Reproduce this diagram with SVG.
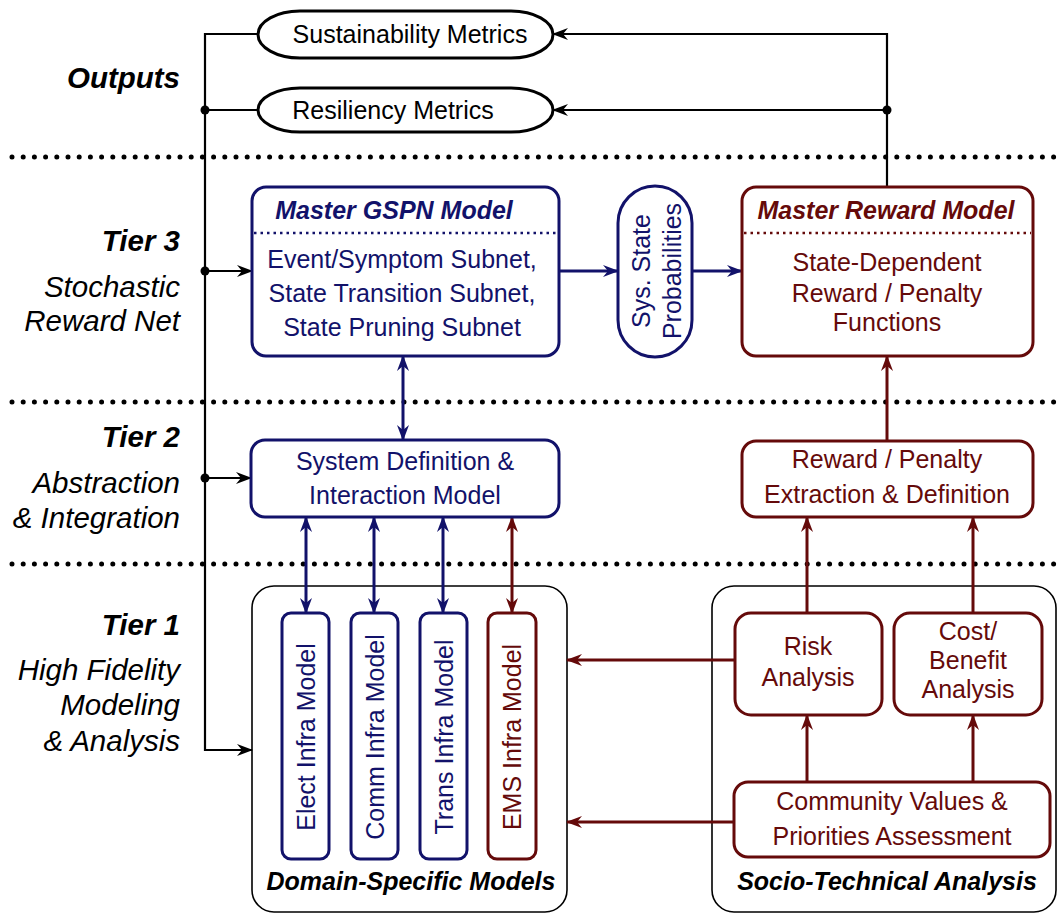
<svg xmlns="http://www.w3.org/2000/svg" width="1059" height="915" viewBox="0 0 1059 915">
<defs>
<style>
text{font-family:"Liberation Sans",Arial,sans-serif;}
.t{font-size:25px;text-anchor:middle;}
.nv{fill:#12126a;}
.rd{fill:#650a0a;}
.bk{fill:#000;}
.lbl{font-size:29.5px;font-style:italic;text-anchor:end;fill:#000;}
.tier{font-weight:bold;}
.ttl{font-size:25px;font-style:italic;font-weight:bold;text-anchor:middle;}
.bn{fill:#fff;stroke:#12126a;stroke-width:3;}
.br{fill:#fff;stroke:#650a0a;stroke-width:3;}
.bo{fill:#fff;stroke:#000;stroke-width:1.6;}
.sep{stroke:#000;stroke-width:5;stroke-dasharray:0 11.2;stroke-linecap:round;fill:none;}
.dn{stroke:#12126a;stroke-width:2.5;stroke-dasharray:2.5 4;fill:none;}
.dr{stroke:#650a0a;stroke-width:2.5;stroke-dasharray:2.5 4;fill:none;}
.ck{stroke:#000;stroke-width:2.2;fill:none;}
.cn{stroke:#12126a;stroke-width:3;fill:none;}
.cr{stroke:#650a0a;stroke-width:3;fill:none;}
</style>
<marker id="ak" viewBox="0 0 16 12" refX="15" refY="6" markerWidth="16" markerHeight="12" markerUnits="userSpaceOnUse" orient="auto-start-reverse"><path d="M0,0 L16,6 L0,12 L5,6 z" fill="#000"/></marker>
<marker id="an" viewBox="0 0 16 12" refX="15" refY="6" markerWidth="16" markerHeight="12" markerUnits="userSpaceOnUse" orient="auto-start-reverse"><path d="M0,0 L16,6 L0,12 L5,6 z" fill="#12126a"/></marker>
<marker id="ar" viewBox="0 0 16 12" refX="15" refY="6" markerWidth="16" markerHeight="12" markerUnits="userSpaceOnUse" orient="auto-start-reverse"><path d="M0,0 L16,6 L0,12 L5,6 z" fill="#650a0a"/></marker>
</defs>
<rect width="1059" height="915" fill="#fff"/>

<g id="separators">
<line class="sep" x1="12" y1="157" x2="1056" y2="157"/>
<line class="sep" x1="12" y1="402" x2="1056" y2="402"/>
<line class="sep" x1="12" y1="564" x2="1056" y2="564"/>
</g>

<g id="tier-labels">
<text class="lbl tier" x="180" y="88">Outputs</text>
<text class="lbl tier" x="180" y="251">Tier 3</text>
<text class="lbl" x="180" y="297">Stochastic</text>
<text class="lbl" x="180" y="331">Reward Net</text>
<text class="lbl tier" x="180" y="447">Tier 2</text>
<text class="lbl" x="180" y="493">Abstraction</text>
<text class="lbl" x="180" y="528">&amp; Integration</text>
<text class="lbl tier" x="180" y="635">Tier 1</text>
<text class="lbl" x="180" y="680">High Fidelity</text>
<text class="lbl" x="180" y="715">Modeling</text>
<text class="lbl" x="180" y="751">&amp; Analysis</text>
</g>

<g id="domain-specific-models">
<rect class="bo" x="252" y="586" width="315" height="326" rx="22"/>
<text class="ttl bk" x="411" y="890">Domain-Specific Models</text>
</g>
<g id="socio-technical-analysis">
<rect class="bo" x="712" y="586" width="344" height="326" rx="22"/>
<text class="ttl bk" x="887" y="890">Socio-Technical Analysis</text>
</g>

<g id="connectors">
<path class="ck" d="M258,34 H205 V750 H252" marker-end="url(#ak)"/>
<path class="ck" d="M205,110 H258"/>
<path class="ck" d="M205,271 H252" marker-end="url(#ak)"/>
<path class="ck" d="M205,478 H251" marker-end="url(#ak)"/>
<circle cx="205" cy="110" r="4.5" fill="#000"/>
<circle cx="205" cy="271" r="4.5" fill="#000"/>
<circle cx="205" cy="478" r="4.5" fill="#000"/>
<path class="ck" d="M887,187 V34 H553" marker-end="url(#ak)"/>
<path class="ck" d="M887,110 H553" marker-end="url(#ak)"/>
<circle cx="887" cy="110" r="4.5" fill="#000"/>
<path class="cn" d="M559,271 H618" marker-end="url(#an)"/>
<path class="cn" d="M692,271 H742" marker-end="url(#an)"/>
<path class="cn" d="M403,356 V440" marker-start="url(#an)" marker-end="url(#an)"/>
<path class="cn" d="M306,517 V613" marker-start="url(#an)" marker-end="url(#an)"/>
<path class="cn" d="M374,517 V613" marker-start="url(#an)" marker-end="url(#an)"/>
<path class="cn" d="M443,517 V613" marker-start="url(#an)" marker-end="url(#an)"/>
<path class="cr" d="M512,517 V613" marker-start="url(#ar)" marker-end="url(#ar)"/>
<path class="cr" d="M887,441 V356" marker-end="url(#ar)"/>
<path class="cr" d="M807,613 V517" marker-end="url(#ar)"/>
<path class="cr" d="M973,613 V517" marker-end="url(#ar)"/>
<path class="cr" d="M807,782 V715" marker-end="url(#ar)"/>
<path class="cr" d="M973,782 V715" marker-end="url(#ar)"/>
<path class="cr" d="M735,660 H567" marker-end="url(#ar)"/>
<path class="cr" d="M734,822 H567" marker-end="url(#ar)"/>
</g>

<g id="sustainability-metrics">
<rect x="258" y="11" width="295" height="47" rx="42" ry="23.5" fill="#fff" stroke="#000" stroke-width="3"/>
<text class="t bk" x="410" y="43">Sustainability Metrics</text>
</g>
<g id="resiliency-metrics">
<rect x="258" y="88" width="295" height="44" rx="42" ry="22" fill="#fff" stroke="#000" stroke-width="3"/>
<text class="t bk" x="393" y="119">Resiliency Metrics</text>
</g>

<g id="master-gspn-model">
<rect class="bn" x="252" y="187" width="307" height="169" rx="14"/>
<line class="dn" x1="254" y1="233" x2="557" y2="233"/>
<text class="ttl nv" x="394" y="219">Master GSPN Model</text>
<text class="t nv" x="402" y="268">Event/Symptom Subnet,</text>
<text class="t nv" x="402" y="302">State Transition Subnet,</text>
<text class="t nv" x="402" y="336">State Pruning Subnet</text>
</g>

<g id="sys-state-probabilities">
<rect class="bn" x="618" y="186" width="74" height="171" rx="37"/>
<g transform="translate(655,271) rotate(-90)">
<text class="t nv" x="0" y="-5">Sys. State</text>
<text class="t nv" x="0" y="26">Probabilities</text>
</g>
</g>

<g id="master-reward-model">
<rect class="br" x="742" y="187" width="291" height="169" rx="14"/>
<line class="dr" x1="744" y1="233" x2="1031" y2="233"/>
<text class="ttl rd" x="886" y="219">Master Reward Model</text>
<text class="t rd" x="887" y="271">State-Dependent</text>
<text class="t rd" x="887" y="302">Reward / Penalty</text>
<text class="t rd" x="887" y="331">Functions</text>
</g>

<g id="system-definition">
<rect class="bn" x="251" y="440" width="308" height="77" rx="14"/>
<text class="t nv" x="405" y="470">System Definition &amp;</text>
<text class="t nv" x="405" y="504">Interaction Model</text>
</g>

<g id="reward-penalty-extraction">
<rect class="br" x="742" y="441" width="291" height="76" rx="14"/>
<text class="t rd" x="887" y="468">Reward / Penalty</text>
<text class="t rd" x="887" y="503">Extraction &amp; Definition</text>
</g>

<g id="elect-infra-model">
<rect class="bn" x="282" y="613" width="47" height="246" rx="9"/>
<text class="t nv" transform="translate(315,737) rotate(-90)" x="0" y="0">Elect Infra Model</text>
</g>
<g id="comm-infra-model">
<rect class="bn" x="351" y="613" width="47" height="246" rx="9"/>
<text class="t nv" transform="translate(384,737) rotate(-90)" x="0" y="0">Comm Infra Model</text>
</g>
<g id="trans-infra-model">
<rect class="bn" x="420" y="613" width="47" height="246" rx="9"/>
<text class="t nv" transform="translate(453,737) rotate(-90)" x="0" y="0">Trans Infra Model</text>
</g>
<g id="ems-infra-model">
<rect class="br" x="488" y="613" width="48" height="246" rx="9"/>
<text class="t rd" transform="translate(521,737) rotate(-90)" x="0" y="0">EMS Infra Model</text>
</g>

<g id="risk-analysis">
<rect class="br" x="735" y="613" width="147" height="102" rx="16"/>
<text class="t rd" x="808" y="655">Risk</text>
<text class="t rd" x="808" y="686">Analysis</text>
</g>
<g id="cost-benefit-analysis">
<rect class="br" x="894" y="613" width="148" height="102" rx="16"/>
<text class="t rd" x="968" y="640">Cost/</text>
<text class="t rd" x="968" y="669">Benefit</text>
<text class="t rd" x="968" y="698">Analysis</text>
</g>
<g id="community-values">
<rect class="br" x="734" y="782" width="316" height="75" rx="14"/>
<text class="t rd" x="892" y="810">Community Values &amp;</text>
<text class="t rd" x="892" y="845">Priorities Assessment</text>
</g>
</svg>
